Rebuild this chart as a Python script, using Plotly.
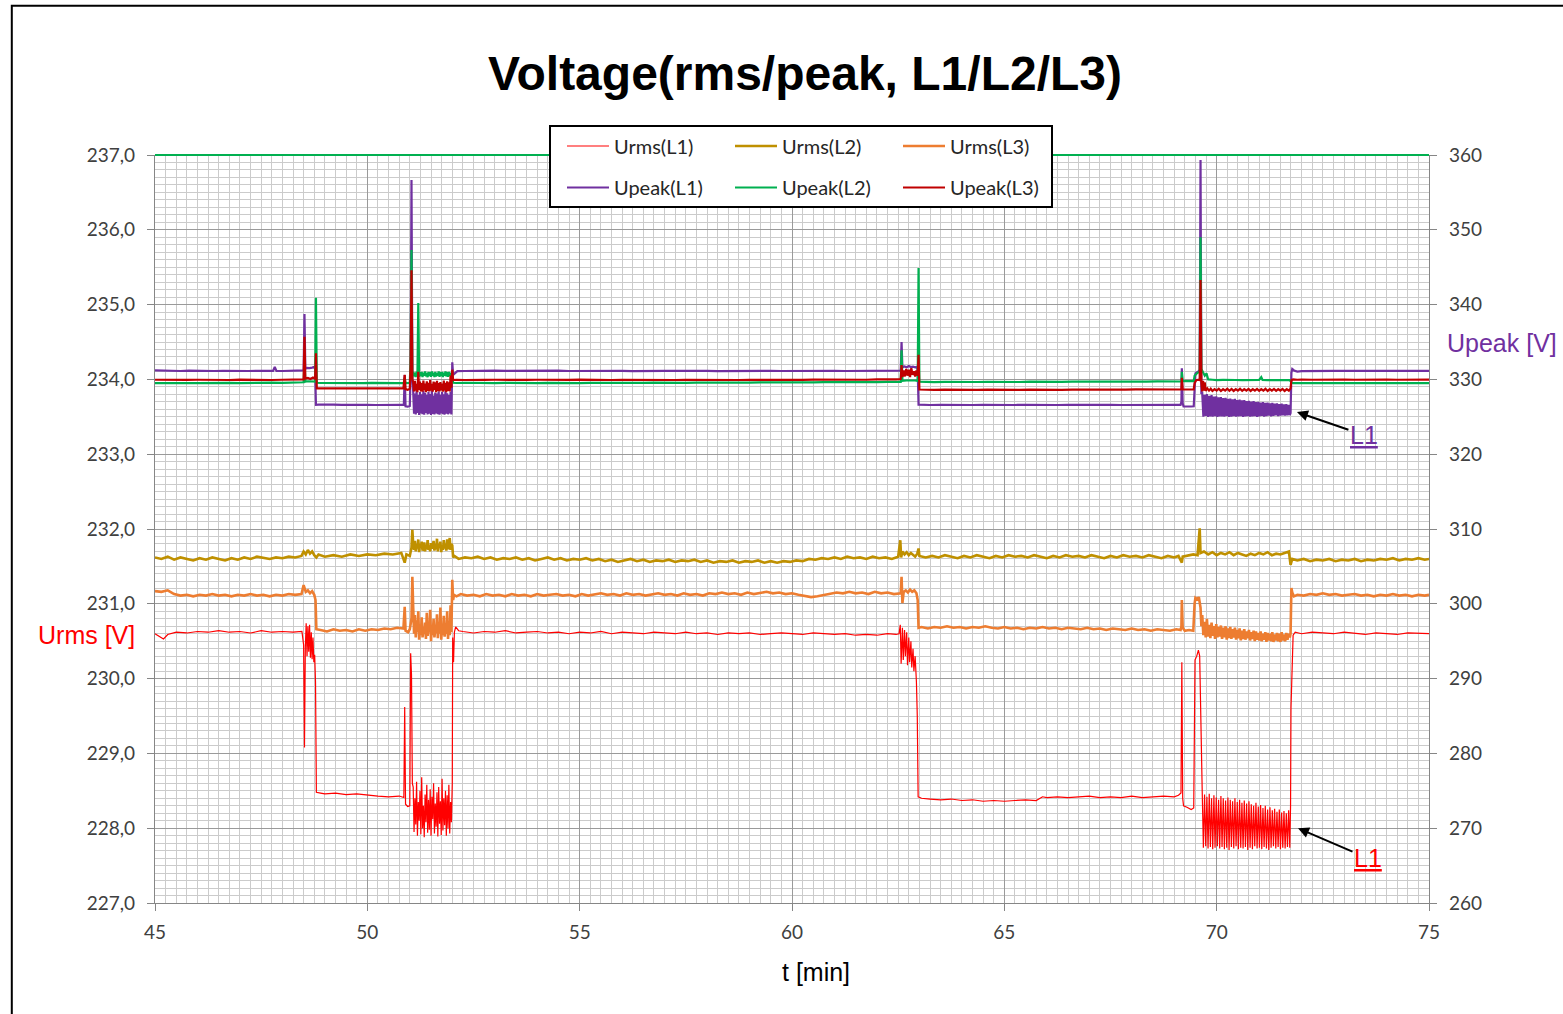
import plotly.graph_objects as go

# ---------------- shared sample times for the two oscillation blocks ----------------
T_BLK1 = [51.08, 51.10, 51.12, 51.14, 51.16, 51.18, 51.20, 51.22, 51.24, 51.26, 51.28, 51.30,
          51.32, 51.34, 51.36, 51.38, 51.40, 51.42, 51.44, 51.46, 51.48, 51.50, 51.52, 51.54,
          51.56, 51.58, 51.60, 51.62, 51.64, 51.66, 51.68, 51.70, 51.72, 51.74, 51.76, 51.78,
          51.80, 51.82, 51.84, 51.86, 51.88, 51.90, 51.92, 51.94, 51.96, 51.98]
T_BLK2 = [69.660, 69.687, 69.715, 69.742, 69.770, 69.797, 69.825, 69.852, 69.880, 69.907,
          69.935, 69.962, 69.990, 70.017, 70.045, 70.072, 70.100, 70.127, 70.155, 70.182,
          70.210, 70.237, 70.265, 70.292, 70.320, 70.347, 70.375, 70.402, 70.430, 70.457,
          70.485, 70.512, 70.540, 70.567, 70.595, 70.622, 70.650, 70.677, 70.705, 70.732,
          70.760, 70.787, 70.815, 70.842, 70.870, 70.897, 70.925, 70.952, 70.980, 71.007,
          71.035, 71.062, 71.090, 71.117, 71.145, 71.172, 71.200, 71.227, 71.255, 71.282,
          71.310, 71.337, 71.365, 71.392, 71.420, 71.447, 71.475, 71.502, 71.530, 71.557,
          71.585, 71.612, 71.640, 71.667, 71.695, 71.722]

# ---------------- Urms(L1) ----------------
URMS_L1_PRE = [(45.00,230.60),(45.10,230.57),(45.20,230.53),(45.30,230.59),(45.50,230.62),(45.75,230.61),
    (46.00,230.63),(46.25,230.62),(46.50,230.64),(46.75,230.62),(47.00,230.63),(47.25,230.61),(47.50,230.64),
    (47.75,230.62),(48.00,230.63),(48.25,230.62),(48.46,230.63),
    (48.50,230.45),(48.52,229.08),(48.54,230.42),(48.56,230.74),(48.58,230.30),(48.60,230.70),(48.62,230.36),
    (48.64,230.72),(48.66,230.28),(48.68,230.62),(48.70,230.26),(48.72,230.55),(48.74,230.22),(48.76,230.32),
    (48.78,229.95),(48.80,228.48),
    (48.90,228.47),(49.00,228.46),(49.25,228.47),(49.50,228.45),(49.75,228.46),(50.00,228.44),(50.25,228.43),
    (50.50,228.42),(50.75,228.43),(50.86,228.41),
    (50.88,229.62),(50.90,228.32),(50.95,228.29),(51.00,228.30),(51.02,230.34),(51.04,230.05),(51.06,228.60)]
URMS_L1_BLK1 = [228.55,227.95,228.40,228.05,228.62,227.90,228.35,228.10,228.50,227.92,228.68,228.00,
    228.30,227.88,228.45,228.08,228.58,227.94,228.38,227.98,228.52,227.90,228.42,228.12,228.60,227.93,
    228.33,228.02,228.48,227.89,228.55,228.06,228.36,227.91,228.66,227.97,228.40,228.04,228.50,227.90,
    228.44,228.00,228.58,227.93,228.35,228.08]
URMS_L1_MID = [(52.00,228.60),(52.01,230.55),(52.03,230.22),(52.05,230.62),(52.08,230.69),(52.15,230.64),
    (52.25,230.63),(52.50,230.61),(52.75,230.63),(53.00,230.62),(53.25,230.64),(53.50,230.61),(53.75,230.62),
    (54.00,230.63),(54.25,230.61),(54.50,230.62),(54.75,230.60),(55.00,230.62),(55.25,230.61),(55.50,230.63),
    (55.75,230.60),(56.00,230.62),(56.25,230.61),(56.50,230.60),(56.75,230.62),(57.00,230.61),(57.25,230.60),
    (57.50,230.62),(57.75,230.60),(58.00,230.61),(58.25,230.59),(58.50,230.61),(58.75,230.60),(59.00,230.61),
    (59.25,230.59),(59.50,230.60),(59.75,230.61),(60.00,230.60),(60.25,230.59),(60.50,230.61),(60.75,230.60),
    (61.00,230.59),(61.25,230.60),(61.50,230.58),(61.75,230.59),(62.00,230.58),(62.25,230.60),(62.45,230.59),
    (62.52,230.60),(62.55,230.72),(62.57,230.20),(62.60,230.68),(62.62,230.25),(62.65,230.65),(62.67,230.30),
    (62.70,230.62),(62.72,230.18),(62.75,230.55),(62.77,230.22),(62.80,230.50),(62.82,230.15),(62.85,230.40),
    (62.87,230.10),(62.90,230.30),(62.93,229.95),(62.95,229.50),(62.97,228.42),
    (63.05,228.40),(63.25,228.39),(63.50,228.38),(63.75,228.39),(64.00,228.37),(64.25,228.38),(64.50,228.36),
    (64.75,228.37),(65.00,228.36),(65.25,228.37),(65.50,228.38),(65.75,228.37),(65.90,228.42),(66.00,228.41),
    (66.25,228.42),(66.50,228.41),(66.75,228.42),(67.00,228.43),(67.25,228.41),(67.50,228.42),(67.75,228.41),
    (68.00,228.43),(68.25,228.41),(68.50,228.42),(68.75,228.43),(69.00,228.42),(69.10,228.44),(69.16,228.47),
    (69.18,230.22),(69.20,228.40),(69.22,228.30),(69.30,228.28),(69.40,228.25),(69.46,228.27),(69.49,230.25),
    (69.53,230.30),(69.57,230.38),(69.60,230.30),(69.62,229.50)]
URMS_L1_BLK2 = [228.48,227.74,228.45,227.76,228.42,227.73,228.46,227.75,228.40,227.72,228.44,227.74,
    228.41,227.76,228.38,227.73,228.43,227.75,228.40,227.72,228.37,227.74,228.41,227.71,228.38,227.75,
    228.36,227.73,228.40,227.76,228.35,227.72,228.38,227.74,228.34,227.73,228.37,227.75,228.33,227.71,
    228.36,227.74,228.32,227.72,228.30,227.76,228.34,227.73,228.29,227.74,228.31,227.72,228.27,227.75,
    228.30,227.73,228.25,227.71,228.28,227.74,228.24,227.76,228.26,227.73,228.22,227.75,228.25,227.72,
    228.21,227.74,228.23,227.73,228.20,227.75,228.24,227.74]
URMS_L1_POST = [(71.74,228.30),(71.75,229.60),(71.77,230.08),(71.80,230.58),(71.85,230.62),(72.00,230.60),
    (72.25,230.62),(72.50,230.61),(72.75,230.60),(73.00,230.62),(73.25,230.60),(73.50,230.59),(73.75,230.61),
    (74.00,230.60),(74.25,230.59),(74.50,230.61),(74.75,230.60),(75.00,230.60)]

# ---------------- Urms(L2) ----------------
URMS_L2_PRE = [(45.00,231.62),(45.15,231.60),(45.30,231.63),(45.45,231.59),(45.60,231.62),(45.75,231.60),
    (45.90,231.58),(46.05,231.61),(46.20,231.59),(46.35,231.62),(46.50,231.60),(46.65,231.58),(46.80,231.61),
    (46.95,231.59),(47.10,231.62),(47.25,231.60),(47.40,231.63),(47.55,231.61),(47.70,231.60),(47.85,231.62),
    (48.00,231.61),(48.15,231.63),(48.30,231.62),(48.45,231.64),
    (48.50,231.70),(48.55,231.66),(48.60,231.72),(48.65,231.67),(48.70,231.70),(48.75,231.65),(48.80,231.62),
    (48.85,231.66),(49.00,231.63),(49.20,231.65),(49.40,231.63),(49.60,231.66),(49.80,231.64),(50.00,231.66),
    (50.20,231.65),(50.40,231.67),(50.60,231.66),(50.80,231.68),(50.88,231.55),(50.92,231.66),(51.00,231.64),
    (51.04,231.75),(51.06,231.99)]
URMS_L2_BLK1 = [231.80,231.72,231.84,231.70,231.78,231.74,231.86,231.69,231.80,231.75,231.83,231.71,
    231.77,231.82,231.70,231.79,231.73,231.85,231.72,231.78,231.70,231.81,231.74,231.76,231.84,231.71,
    231.79,231.73,231.87,231.70,231.80,231.75,231.83,231.69,231.78,231.72,231.85,231.74,231.80,231.71,
    231.86,231.73,231.79,231.88,231.72,231.80]
URMS_L2_POST = [(52.00,231.78),(52.02,231.62),(52.05,231.64),(52.15,231.60),(52.30,231.62),
    (52.45,231.61),(52.60,231.63),(52.75,231.60),(52.90,231.62),(53.05,231.59),(53.20,231.61),(53.35,231.60),
    (53.50,231.62),(53.65,231.59),(53.80,231.61),(53.95,231.58),(54.10,231.60),(54.25,231.62),(54.40,231.59),
    (54.55,231.61),(54.70,231.58),(54.85,231.60),(55.00,231.59),(55.15,231.61),(55.30,231.58),(55.45,231.60),
    (55.60,231.57),(55.75,231.59),(55.90,231.56),(56.05,231.58),(56.20,231.60),(56.35,231.57),(56.50,231.59),
    (56.65,231.56),(56.80,231.58),(56.95,231.57),(57.10,231.59),(57.25,231.56),(57.40,231.58),(57.55,231.57),
    (57.70,231.59),(57.85,231.56),(58.00,231.58),(58.15,231.55),(58.30,231.57),(58.45,231.56),(58.60,231.58),
    (58.75,231.55),(58.90,231.57),(59.05,231.56),(59.20,231.58),(59.35,231.55),(59.50,231.57),(59.65,231.55),
    (59.80,231.57),(59.95,231.56),(60.10,231.58),(60.25,231.57),(60.40,231.60),(60.55,231.59),(60.70,231.61),
    (60.85,231.60),(61.00,231.62),(61.15,231.60),(61.30,231.63),(61.45,231.61),(61.60,231.62),(61.75,231.60),
    (61.90,231.63),(62.05,231.61),(62.20,231.62),(62.35,231.60),(62.50,231.63),
    (62.55,231.85),(62.57,231.62),(62.60,231.70),(62.65,231.66),(62.70,231.69),(62.75,231.65),(62.80,231.68),
    (62.85,231.66),(62.90,231.63),(62.95,231.67),(62.98,231.74),(63.00,231.64),
    (63.15,231.62),(63.30,231.64),(63.45,231.62),(63.60,231.65),(63.75,231.63),(63.90,231.61),(64.05,231.64),
    (64.20,231.62),(64.35,231.65),(64.50,231.63),(64.65,231.61),(64.80,231.64),(64.95,231.62),(65.10,231.65),
    (65.25,231.63),(65.40,231.64),(65.55,231.62),(65.70,231.65),(65.85,231.63),(66.00,231.61),(66.15,231.64),
    (66.30,231.62),(66.45,231.65),(66.60,231.63),(66.75,231.64),(66.90,231.62),(67.05,231.65),(67.20,231.63),
    (67.35,231.61),(67.50,231.64),(67.65,231.62),(67.80,231.65),(67.95,231.63),(68.10,231.64),(68.25,231.62),
    (68.40,231.65),(68.55,231.63),(68.70,231.61),(68.85,231.64),(69.00,231.62),(69.10,231.64),(69.18,231.55),
    (69.20,231.63),(69.30,231.64),(69.45,231.66),(69.55,231.65),(69.60,232.01),(69.62,231.68),
    (69.70,231.70),(69.80,231.66),(69.90,231.69),(70.00,231.65),(70.10,231.68),(70.20,231.66),(70.30,231.69),
    (70.40,231.65),(70.50,231.68),(70.60,231.66),(70.70,231.64),(70.80,231.67),(70.90,231.65),(71.00,231.68),
    (71.10,231.66),(71.20,231.69),(71.30,231.65),(71.40,231.67),(71.50,231.66),(71.60,231.68),(71.70,231.70),
    (71.74,231.52),(71.78,231.60),
    (71.90,231.58),(72.05,231.60),(72.20,231.57),(72.35,231.59),(72.50,231.58),(72.65,231.60),(72.80,231.57),
    (72.95,231.59),(73.10,231.58),(73.25,231.60),(73.40,231.57),(73.55,231.59),(73.70,231.58),(73.85,231.60),
    (74.00,231.59),(74.15,231.61),(74.30,231.58),(74.45,231.60),(74.60,231.59),(74.75,231.61),(74.90,231.59),
    (75.00,231.60)]

# ---------------- Urms(L3) ----------------
URMS_L3_PRE = [(45.00,231.17),(45.15,231.16),(45.30,231.18),(45.45,231.13),(45.60,231.11),(45.75,231.12),
    (45.90,231.10),(46.05,231.12),(46.20,231.11),(46.35,231.13),(46.50,231.11),(46.65,231.12),(46.80,231.10),
    (46.95,231.12),(47.10,231.11),(47.25,231.13),(47.40,231.11),(47.55,231.12),(47.70,231.10),(47.85,231.12),
    (48.00,231.11),(48.15,231.13),(48.30,231.12),(48.45,231.13),
    (48.50,231.25),(48.55,231.16),(48.60,231.18),(48.65,231.14),(48.70,231.17),(48.75,231.12),(48.78,231.05),
    (48.80,230.66),
    (48.90,230.65),(49.05,230.63),(49.20,230.66),(49.35,230.64),(49.50,230.65),(49.65,230.63),(49.80,230.66),
    (49.95,230.64),(50.10,230.66),(50.25,230.65),(50.40,230.67),(50.55,230.66),(50.70,230.68),(50.85,230.67),
    (50.88,230.96),(50.90,230.64),(50.96,230.62),(51.00,230.66),(51.04,230.80),(51.06,231.36)]
URMS_L3_BLK1 = [230.95,230.60,230.85,230.55,230.78,230.62,230.90,230.52,230.70,230.58,230.82,230.55,
    230.65,230.60,230.75,230.53,230.88,230.57,230.68,230.62,230.92,230.50,230.72,230.58,230.80,230.55,
    230.66,230.61,230.86,230.54,230.74,230.60,230.95,230.52,230.70,230.58,230.84,230.56,230.67,230.60,
    230.90,230.53,230.76,230.58,230.98,230.62]
URMS_L3_MID = [(52.00,231.32),(52.02,231.05),(52.04,231.12),(52.10,231.10),(52.20,231.13),(52.35,231.11),
    (52.50,231.12),(52.65,231.10),(52.80,231.13),(52.95,231.11),(53.10,231.12),(53.25,231.10),(53.40,231.13),
    (53.55,231.11),(53.70,231.12),(53.85,231.10),(54.00,231.13),(54.15,231.11),(54.30,231.12),(54.45,231.13),
    (54.60,231.11),(54.75,231.12),(54.90,231.10),(55.05,231.13),(55.20,231.11),(55.35,231.12),(55.50,231.14),
    (55.65,231.12),(55.80,231.13),(55.95,231.11),(56.10,231.14),(56.25,231.12),(56.40,231.13),(56.55,231.11),
    (56.70,231.12),(56.85,231.14),(57.00,231.12),(57.15,231.13),(57.30,231.11),(57.45,231.14),(57.60,231.12),
    (57.75,231.13),(57.90,231.11),(58.05,231.14),(58.20,231.13),(58.35,231.15),(58.50,231.13),(58.65,231.14),
    (58.80,231.12),(58.95,231.15),(59.10,231.13),(59.25,231.14),(59.40,231.16),(59.55,231.14),(59.70,231.15),
    (59.85,231.13),(60.00,231.14),(60.15,231.12),(60.30,231.11),(60.45,231.09),(60.60,231.10),(60.75,231.12),
    (60.90,231.13),(61.05,231.15),(61.20,231.14),(61.35,231.16),(61.50,231.14),(61.65,231.15),(61.80,231.13),
    (61.95,231.16),(62.10,231.14),(62.25,231.15),(62.40,231.13),(62.50,231.14),
    (62.56,231.14),(62.58,231.36),(62.60,231.01),(62.63,231.16),(62.68,231.18),(62.73,231.15),(62.78,231.19),
    (62.83,231.16),(62.88,231.18),(62.93,231.14),(62.96,231.05),(62.98,230.68),
    (63.05,230.69),(63.20,230.67),(63.35,230.69),(63.50,230.68),(63.65,230.70),(63.80,230.68),(63.95,230.69),
    (64.10,230.67),(64.25,230.69),(64.40,230.68),(64.55,230.70),(64.70,230.68),(64.85,230.67),(65.00,230.69),
    (65.15,230.67),(65.30,230.68),(65.45,230.66),(65.60,230.68),(65.75,230.67),(65.90,230.69),(66.05,230.67),
    (66.20,230.68),(66.35,230.66),(66.50,230.68),(66.65,230.67),(66.80,230.66),(66.95,230.68),(67.10,230.66),
    (67.25,230.67),(67.40,230.65),(67.55,230.67),(67.70,230.66),(67.85,230.65),(68.00,230.67),(68.15,230.65),
    (68.30,230.66),(68.45,230.64),(68.60,230.66),(68.75,230.65),(68.90,230.64),(69.05,230.66),(69.15,230.65),
    (69.17,230.70),(69.18,231.05),(69.20,230.68),(69.25,230.64),(69.35,230.65),(69.45,230.64),(69.48,231.00),
    (69.50,231.08),(69.55,231.06),(69.58,231.09),(69.62,230.95),(69.64,230.70)]
URMS_L3_BLK2 = [230.85,230.58,230.76,230.55,230.80,230.56,230.72,230.54,230.75,230.57,230.70,230.53,
    230.73,230.55,230.69,230.56,230.71,230.53,230.68,230.55,230.70,230.52,230.67,230.54,230.69,230.53,
    230.66,230.55,230.68,230.52,230.65,230.54,230.67,230.51,230.64,230.53,230.66,230.52,230.63,230.54,
    230.65,230.51,230.62,230.53,230.64,230.50,230.63,230.52,230.61,230.51,230.63,230.50,230.60,230.52,
    230.62,230.49,230.61,230.51,230.60,230.50,230.62,230.49,230.59,230.51,230.61,230.50,230.60,230.49,
    230.62,230.51,230.59,230.50,230.61,230.52,230.60,230.55]
URMS_L3_POST = [(71.74,230.60),(71.76,231.21),(71.78,231.15),(71.82,231.10),(71.90,231.12),(72.05,231.11),
    (72.20,231.13),(72.35,231.12),(72.50,231.14),(72.65,231.12),(72.80,231.13),(72.95,231.11),(73.10,231.12),
    (73.25,231.13),(73.40,231.11),(73.55,231.12),(73.70,231.10),(73.85,231.12),(74.00,231.11),(74.15,231.13),
    (74.30,231.11),(74.45,231.12),(74.60,231.10),(74.75,231.12),(74.90,231.11),(75.00,231.12)]

# ---------------- Upeak(L1) ----------------
UPEAK_L1_PRE = [(45.00,331.20),(45.20,331.15),(45.40,331.18),(45.60,331.12),(45.80,331.16),(46.00,331.13),
    (46.20,331.17),(46.40,331.12),(46.60,331.15),(46.80,331.11),(47.00,331.14),(47.20,331.12),(47.40,331.15),
    (47.60,331.11),(47.78,331.13),(47.82,331.65),(47.86,331.14),(48.00,331.12),(48.20,331.15),(48.40,331.13),
    (48.48,331.14),
    (48.50,331.20),(48.52,338.74),(48.54,331.40),(48.58,331.55),(48.64,331.50),(48.70,331.58),(48.74,331.65),
    (48.77,331.40),(48.79,326.60),
    (48.85,326.62),(49.00,326.58),(49.20,326.62),(49.40,326.59),(49.60,326.63),(49.80,326.60),(50.00,326.61),
    (50.20,326.58),(50.40,326.62),(50.60,326.59),(50.80,326.61),(50.86,326.60),(50.88,330.59),(50.90,326.40),
    (50.95,326.35),(51.00,326.45),(51.02,331.00),(51.04,356.66),(51.06,330.20)]
UPEAK_L1_BLK1 = [328.40,325.40,328.10,325.30,328.55,325.50,327.90,325.25,328.30,325.45,328.00,325.35,
    328.45,325.28,328.20,325.50,327.95,325.32,328.35,325.42,328.05,325.26,328.50,325.38,327.85,325.30,
    328.25,325.46,328.10,325.34,328.40,325.27,327.95,325.44,328.30,325.36,328.00,325.29,328.45,325.40,
    328.15,325.33,327.90,325.45,328.35,325.30]
UPEAK_L1_MID = [(52.00,332.30),(52.02,330.60),(52.06,330.80),(52.12,331.10),(52.30,331.12),(52.50,331.16),
    (52.75,331.13),(53.00,331.17),(53.25,331.14),(53.50,331.16),(53.75,331.12),(54.00,331.15),(54.25,331.13),
    (54.50,331.16),(54.75,331.12),(55.00,331.14),(55.25,331.13),(55.50,331.15),(55.75,331.12),(56.00,331.14),
    (56.25,331.11),(56.50,331.15),(56.75,331.12),(57.00,331.14),(57.25,331.13),(57.50,331.15),(57.75,331.12),
    (58.00,331.14),(58.25,331.11),(58.50,331.13),(58.75,331.12),(59.00,331.14),(59.25,331.11),(59.50,331.13),
    (59.75,331.12),(60.00,331.14),(60.25,331.12),(60.50,331.13),(60.75,331.11),(61.00,331.13),(61.25,331.12),
    (61.50,331.14),(61.75,331.12),(62.00,331.15),(62.25,331.13),(62.45,331.15),
    (62.56,331.18),(62.58,335.00),(62.60,331.60),(62.65,331.72),(62.70,331.62),(62.75,331.78),(62.80,331.65),
    (62.85,331.70),(62.90,331.62),(62.94,331.68),(62.96,331.20),(62.98,326.62),
    (63.05,326.60),(63.25,326.58),(63.50,326.61),(63.75,326.57),(64.00,326.60),(64.25,326.58),(64.50,326.61),
    (64.75,326.57),(65.00,326.59),(65.25,326.58),(65.50,326.60),(65.75,326.57),(66.00,326.59),(66.25,326.58),
    (66.50,326.61),(66.75,326.58),(67.00,326.60),(67.25,326.57),(67.50,326.59),(67.75,326.58),(68.00,326.60),
    (68.25,326.58),(68.50,326.61),(68.75,326.58),(69.00,326.60),(69.15,326.59),
    (69.17,327.00),(69.18,331.50),(69.20,326.80),(69.22,326.40),(69.30,326.35),(69.40,326.38),(69.46,326.40),
    (69.48,328.50),(69.50,330.80),(69.55,331.00),(69.58,331.10),(69.60,331.30),(69.62,359.33),(69.64,328.20)]
UPEAK_L1_BLK2 = [328.20,325.00,327.95,325.10,328.05,324.98,327.80,325.05,327.90,325.02,327.70,325.08,
    327.75,324.97,327.60,325.04,327.65,325.06,327.50,325.00,327.55,325.10,327.40,324.98,327.45,325.03,
    327.35,325.07,327.40,325.01,327.25,325.05,327.30,325.09,327.20,324.99,327.25,325.04,327.10,325.08,
    327.15,325.02,327.05,325.06,327.10,325.10,326.95,325.00,327.00,325.05,326.90,325.12,326.95,325.03,
    326.85,325.08,326.90,325.15,326.80,325.06,326.85,325.12,326.75,325.18,326.80,325.10,326.70,325.15,
    326.75,325.20,326.65,325.14,326.70,325.18,326.60,325.22]
UPEAK_L1_POST = [(71.74,325.50),(71.76,330.90),(71.78,331.40),(71.82,331.20),(71.90,331.05),(72.00,331.10),
    (72.25,331.14),(72.50,331.12),(72.75,331.15),(73.00,331.13),(73.25,331.16),(73.50,331.12),(73.75,331.15),
    (74.00,331.13),(74.25,331.16),(74.50,331.12),(74.75,331.15),(75.00,331.14)]

# ---------------- Upeak(L2) ----------------
UPEAK_L2_PRE = [(45.00,329.50),(45.25,329.53),(45.50,329.48),(45.75,329.52),(46.00,329.49),(46.25,329.53),
    (46.50,329.50),(46.75,329.54),(47.00,329.51),(47.25,329.55),(47.50,329.52),(47.75,329.56),(48.00,329.54),
    (48.25,329.57),(48.45,329.60),
    (48.50,329.62),(48.52,333.00),(48.54,329.70),(48.60,329.75),(48.66,329.72),(48.72,329.76),(48.77,329.70),
    (48.79,340.90),(48.81,329.55),
    (48.90,329.52),(49.10,329.50),(49.30,329.53),(49.50,329.49),(49.70,329.52),(49.90,329.50),(50.10,329.53),
    (50.30,329.49),(50.50,329.52),(50.70,329.50),(50.86,329.53),(50.88,330.20),(50.90,329.50),(51.00,329.52),
    (51.02,333.00),(51.04,347.30),(51.06,330.50)]
UPEAK_L2_BLK1 = [331.00,330.40,330.90,330.30,331.05,330.50,340.20,330.35,330.95,330.45,331.00,330.30,
    330.90,330.50,331.05,330.40,330.85,330.30,331.00,330.45,330.95,330.35,331.05,330.50,330.90,330.30,
    331.00,330.40,330.85,330.50,331.05,330.35,330.95,330.45,331.00,330.30,330.90,330.50,331.05,330.40,
    330.95,330.35,331.00,330.45,330.90,330.40]
UPEAK_L2_POST = [(52.00,330.60),(52.02,329.55),(52.10,329.52),(52.30,329.55),(52.50,329.51),(52.75,329.54),
    (53.00,329.50),(53.25,329.53),(53.50,329.49),(53.75,329.52),(54.00,329.50),(54.25,329.54),(54.50,329.51),
    (54.75,329.53),(55.00,329.50),(55.25,329.54),(55.50,329.52),(55.75,329.55),(56.00,329.52),(56.25,329.55),
    (56.50,329.53),(56.75,329.56),(57.00,329.53),(57.25,329.56),(57.50,329.54),(57.75,329.57),(58.00,329.55),
    (58.25,329.58),(58.50,329.56),(58.75,329.59),(59.00,329.57),(59.25,329.60),(59.50,329.58),(59.75,329.61),
    (60.00,329.59),(60.25,329.62),(60.50,329.60),(60.75,329.63),(61.00,329.61),(61.25,329.64),(61.50,329.62),
    (61.75,329.65),(62.00,329.63),(62.25,329.66),(62.45,329.65),
    (62.56,329.66),(62.58,333.90),(62.60,329.80),(62.70,329.85),(62.80,329.90),(62.90,329.85),(62.96,329.80),
    (62.98,344.90),(63.00,329.70),
    (63.10,329.66),(63.35,329.63),(63.60,329.67),(63.85,329.64),(64.10,329.68),(64.35,329.65),(64.60,329.67),
    (64.85,329.64),(65.10,329.68),(65.35,329.65),(65.60,329.69),(65.85,329.66),(66.10,329.70),(66.35,329.67),
    (66.60,329.71),(66.85,329.68),(67.10,329.72),(67.35,329.69),(67.60,329.72),(67.85,329.70),(68.10,329.73),
    (68.35,329.70),(68.60,329.74),(68.85,329.71),(69.05,329.73),(69.15,329.72),
    (69.17,329.80),(69.18,331.00),(69.20,329.78),(69.30,329.75),(69.46,329.78),(69.48,330.50),(69.55,330.90),
    (69.60,331.00),(69.62,349.00),(69.64,331.40),
    (69.68,330.90),(69.72,330.50),(69.76,330.80),(69.80,330.00),(69.90,329.95),(70.00,329.90),(70.15,329.93),
    (70.30,329.88),(70.45,329.92),(70.60,329.90),(70.75,329.94),(70.90,329.89),(71.00,329.92),(71.05,330.30),
    (71.08,329.92),(71.20,329.90),(71.35,329.93),(71.50,329.89),(71.65,329.92),(71.72,329.90),
    (71.76,329.60),(71.80,329.50),(72.00,329.48),(72.25,329.52),(72.50,329.49),(72.75,329.51),(73.00,329.48),
    (73.25,329.52),(73.50,329.49),(73.75,329.51),(74.00,329.48),(74.25,329.52),(74.50,329.49),(74.75,329.51),
    (75.00,329.50)]

# ---------------- Upeak(L3) ----------------
UPEAK_L3_PRE = [(45.00,329.95),(45.25,329.92),(45.50,329.96),(45.75,329.93),(46.00,329.95),(46.25,329.91),
    (46.50,329.94),(46.75,329.92),(47.00,329.96),(47.25,329.93),(47.50,329.95),(47.75,329.92),(48.00,329.95),
    (48.25,329.93),(48.45,329.96),
    (48.50,330.00),(48.52,335.70),(48.54,330.10),(48.60,330.20),(48.66,330.05),(48.72,330.25),(48.77,330.10),
    (48.79,333.50),(48.81,328.80),
    (48.90,328.82),(49.10,328.78),(49.30,328.81),(49.50,328.79),(49.70,328.82),(49.90,328.78),(50.10,328.81),
    (50.30,328.79),(50.50,328.82),(50.70,328.80),(50.85,328.81),(50.88,330.60),(50.90,328.70),(50.95,328.60),
    (51.00,328.75),(51.02,332.00),(51.04,344.60),(51.06,330.00)]
UPEAK_L3_BLK1 = [329.60,328.40,329.80,328.50,329.40,328.30,331.00,328.60,329.70,328.40,329.50,328.35,
    329.85,328.55,329.45,328.30,329.75,328.45,329.55,328.40,329.90,328.50,329.40,328.35,329.70,328.60,
    329.60,328.30,329.80,328.45,329.50,328.40,329.65,328.55,329.45,328.35,329.85,328.50,329.55,328.30,
    329.75,328.45,329.60,328.40,330.50,328.90]
UPEAK_L3_POST = [(52.00,331.30),(52.02,329.90),(52.10,329.95),(52.30,329.92),(52.50,329.96),(52.75,329.93),
    (53.00,329.95),(53.25,329.92),(53.50,329.96),(53.75,329.93),(54.00,329.95),(54.25,329.92),(54.50,329.95),
    (54.75,329.93),(55.00,329.96),(55.25,329.93),(55.50,329.95),(55.75,329.92),(56.00,329.95),(56.25,329.93),
    (56.50,329.96),(56.75,329.93),(57.00,329.95),(57.25,329.92),(57.50,329.95),(57.75,329.93),(58.00,329.96),
    (58.25,329.93),(58.50,329.95),(58.75,329.92),(59.00,329.95),(59.25,329.93),(59.50,329.96),(59.75,329.93),
    (60.00,329.95),(60.25,329.93),(60.50,329.96),(60.75,329.94),(61.00,329.97),(61.25,329.94),(61.50,329.98),
    (61.75,329.95),(62.00,329.99),(62.25,329.96),(62.45,330.00),
    (62.56,330.05),(62.58,331.90),(62.60,330.30),(62.63,331.20),(62.66,330.40),(62.69,331.40),(62.72,330.50),
    (62.75,331.30),(62.78,330.30),(62.81,331.50),(62.84,330.60),(62.87,331.10),(62.90,330.40),(62.93,331.20),
    (62.96,330.50),(62.98,333.30),(63.00,328.65),
    (63.10,328.62),(63.35,328.60),(63.60,328.63),(63.85,328.59),(64.10,328.62),(64.35,328.60),(64.60,328.63),
    (64.85,328.60),(65.10,328.62),(65.35,328.59),(65.60,328.63),(65.85,328.60),(66.10,328.64),(66.35,328.61),
    (66.60,328.64),(66.85,328.62),(67.10,328.65),(67.35,328.62),(67.60,328.66),(67.85,328.63),(68.10,328.66),
    (68.35,328.64),(68.60,328.67),(68.85,328.64),(69.05,328.67),(69.15,328.65),
    (69.17,328.70),(69.18,330.20),(69.20,328.65),(69.30,328.63),(69.46,328.66),(69.48,329.50),(69.52,329.90),
    (69.56,329.95),(69.60,329.90),(69.62,343.30),(69.64,329.50),
    (69.66,328.40),(69.68,329.80),(69.70,328.50),(69.72,329.60),(69.74,328.45),(69.78,328.80),(69.82,328.50),
    (69.86,328.75),(69.90,328.45),(69.95,328.70),(70.00,328.50),(70.05,328.75),(70.10,328.45),(70.15,328.70),
    (70.20,328.50),(70.25,328.75),(70.30,328.48),(70.35,328.72),(70.40,328.46),(70.45,328.70),(70.50,328.50),
    (70.55,328.74),(70.60,328.47),(70.65,328.71),(70.70,328.49),(70.75,328.73),(70.80,328.46),(70.85,328.70),
    (70.90,328.50),(70.95,328.72),(71.00,328.47),(71.05,328.71),(71.10,328.49),(71.15,328.74),(71.20,328.46),
    (71.25,328.70),(71.30,328.50),(71.35,328.73),(71.40,328.47),(71.45,328.71),(71.50,328.49),(71.55,328.72),
    (71.60,328.46),(71.65,328.70),(71.70,328.50),
    (71.74,328.80),(71.76,329.90),(71.80,330.00),(71.90,329.95),(72.00,329.98),(72.25,329.95),(72.50,329.99),
    (72.75,329.96),(73.00,329.98),(73.25,329.95),(73.50,329.99),(73.75,329.96),(74.00,329.98),(74.25,329.95),
    (74.50,329.99),(74.75,329.96),(75.00,329.97)]

X_TICKS = [45, 50, 55, 60, 65, 70, 75]
Y_TICKS = [227, 228, 229, 230, 231, 232, 233, 234, 235, 236, 237]
Y2_TICKS = [260, 270, 280, 290, 300, 310, 320, 330, 340, 350, 360]


def build(*parts):
    ts, vs = [], []
    for p in parts:
        if isinstance(p, tuple):
            times, vals = p
            for t, v in zip(times, vals):
                ts.append(t); vs.append(v)
        else:
            for t, v in p:
                ts.append(t); vs.append(v)
    return ts, vs


series = [
    ("Urms(L1)", build(URMS_L1_PRE, (T_BLK1, URMS_L1_BLK1), URMS_L1_MID, (T_BLK2, URMS_L1_BLK2), URMS_L1_POST),
     "#FF0000", 1.2, "y", "legend"),
    ("Urms(L2)", build(URMS_L2_PRE, (T_BLK1, URMS_L2_BLK1), URMS_L2_POST), "#BF9000", 2.6, "y", "legend"),
    ("Urms(L3)", build(URMS_L3_PRE, (T_BLK1, URMS_L3_BLK1), URMS_L3_MID, (T_BLK2, URMS_L3_BLK2), URMS_L3_POST),
     "#ED7D31", 2.6, "y", "legend"),
    ("Upeak(L1)", build(UPEAK_L1_PRE, (T_BLK1, UPEAK_L1_BLK1), UPEAK_L1_MID, (T_BLK2, UPEAK_L1_BLK2), UPEAK_L1_POST),
     "#7030A0", 2.2, "y2", "legend2"),
    ("Upeak(L2)", build(UPEAK_L2_PRE, (T_BLK1, UPEAK_L2_BLK1), UPEAK_L2_POST), "#00B050", 2.2, "y2", "legend2"),
    ("Upeak(L3)", build(UPEAK_L3_PRE, (T_BLK1, UPEAK_L3_BLK1), UPEAK_L3_POST), "#C00000", 2.2, "y2", "legend2"),
]

fig = go.Figure()
for name, (ts, vs), color, width, yax, leg in series:
    fig.add_trace(go.Scatter(x=ts, y=vs, name=name, mode="lines", yaxis=yax, legend=leg,
                             line=dict(color=color, width=width)))

W, H = 1563, 1014
L, R, T, B = 155, 134, 155, 111
PW, PH = W - L - R, H - T - B


def px(x):
    return (x - L) / PW


def py(y):
    return (H - B - y) / PH


tick_font = dict(family="Lato, Carlito, sans-serif", size=19, color="#404040")
legend_font = dict(family="Lato, Carlito, sans-serif", size=20, color="#262626")
arial = "Liberation Sans, Arial, sans-serif"

fig.update_layout(
    width=W, height=H,
    margin=dict(l=L, r=R, t=T, b=B, autoexpand=False),
    paper_bgcolor="white", plot_bgcolor="white",
    separators=", ",
    title=dict(text="<b>Voltage(rms/peak, L1/L2/L3)</b>", x=px(805), xref="paper",
               y=1 - 73 / H, yanchor="middle", xanchor="center",
               font=dict(family=arial, size=48, color="black")),
    xaxis=dict(range=[45, 75], tickvals=X_TICKS, ticktext=[str(v) for v in X_TICKS],
               showgrid=True, gridcolor="#9A9A9A", gridwidth=1,
               minor=dict(dtick=0.25, tick0=45, showgrid=True, gridcolor="#CBCBCB", gridwidth=1),
               showline=True, linecolor="#868686", linewidth=1.3, ticks="outside", ticklen=7,
               tickcolor="#868686", zeroline=False, tickfont=tick_font, ticklabelstandoff=5),
    yaxis=dict(range=[227, 237], tickvals=Y_TICKS, tickformat=".1f",
               showgrid=True, gridcolor="#9A9A9A", gridwidth=1,
               minor=dict(dtick=0.1, tick0=227, showgrid=True, gridcolor="#CBCBCB", gridwidth=1),
               showline=True, linecolor="#868686", linewidth=1.3, ticks="outside", ticklen=7,
               tickcolor="#868686", zeroline=False, tickfont=tick_font, ticklabelstandoff=8),
    yaxis2=dict(range=[260, 360], tickvals=Y2_TICKS, overlaying="y", side="right",
                showgrid=False, showline=True, linecolor="#868686", linewidth=1.3,
                ticks="outside", ticklen=7, tickcolor="#868686", zeroline=False, tickfont=tick_font,
                ticklabelstandoff=8),
    legend=dict(orientation="h", x=px(562), xanchor="left", y=py(146), yanchor="middle",
                bgcolor="rgba(0,0,0,0)", borderwidth=0, entrywidth=111, itemwidth=42,
                font=legend_font),
    legend2=dict(orientation="h", x=px(562), xanchor="left", y=py(187.5), yanchor="middle",
                 bgcolor="rgba(0,0,0,0)", borderwidth=0, entrywidth=111, itemwidth=42,
                 font=legend_font),
    showlegend=True,
)

shapes = [
    # green upper plot edge
    dict(type="line", xref="paper", yref="paper", x0=0, x1=1, y0=1, y1=1,
         line=dict(color="#00B050", width=2)),
    # legend box
    dict(type="rect", xref="paper", yref="paper", x0=px(550), x1=px(1052), y0=py(207), y1=py(126),
         line=dict(color="black", width=2), fillcolor="white"),
    # outer frame
    dict(type="rect", xref="paper", yref="paper", x0=px(11.8), x1=px(1640), y0=py(1080), y1=py(5.8),
         line=dict(color="black", width=2), fillcolor="rgba(0,0,0,0)"),
]
fig.update_layout(shapes=shapes)

annotations = [
    dict(text="Urms [V]", xref="paper", yref="paper", x=px(86), y=py(635), showarrow=False,
         font=dict(family=arial, size=25, color="#FF0000"), xanchor="center", yanchor="middle"),
    dict(text="Upeak [V]", xref="paper", yref="paper", x=px(1502), y=py(343), showarrow=False,
         font=dict(family=arial, size=25, color="#7030A0"), xanchor="center", yanchor="middle"),
    dict(text="t [min]", xref="paper", yref="paper", x=px(816), y=py(972), showarrow=False,
         font=dict(family=arial, size=25, color="black"), xanchor="center", yanchor="middle"),
    dict(text="<u>L1</u>", x=71.89, y=325.64, xref="x", yref="y2", ax=67, ay=23,
         showarrow=True, arrowhead=2, arrowsize=1.1, arrowwidth=2, arrowcolor="black",
         font=dict(family=arial, size=25, color="#7030A0")),
    dict(text="<u>L1</u>", x=71.915, y=228.0, xref="x", yref="y", ax=70, ay=30,
         showarrow=True, arrowhead=2, arrowsize=1.1, arrowwidth=2, arrowcolor="black",
         font=dict(family=arial, size=25, color="#FF0000")),
]
fig.update_layout(annotations=annotations)

fig.write_html("out.html", config={"displayModeBar": False},
               post_script="document.body.style.margin='0';")
